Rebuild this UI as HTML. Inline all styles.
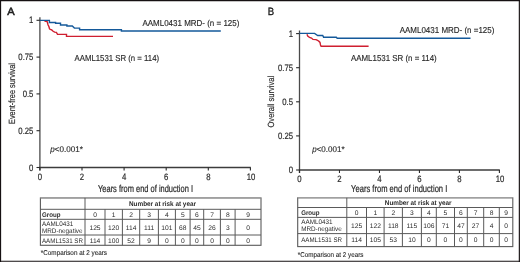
<!DOCTYPE html>
<html><head><meta charset="utf-8"><style>
html,body{margin:0;padding:0;background:#fff;}
svg{display:block;will-change:transform;font-family:"Liberation Sans", sans-serif;text-rendering:geometricPrecision;}
text{fill:#2b2b2b;}
</style></head><body>
<svg width="520" height="262" viewBox="0 0 520 262">
<rect x="0" y="0" width="520" height="262" fill="#fff"/>
<text x="7.3" y="14.6" font-size="10.6" textLength="7.4" lengthAdjust="spacingAndGlyphs" fill="#111" stroke="#111" stroke-width="0.5">A</text>
<line x1="39.9" y1="17.2" x2="39.9" y2="170.5" stroke="#4a4a4a" stroke-width="1.3"/>
<line x1="39.3" y1="167.5" x2="250.8" y2="167.5" stroke="#3c3c3c" stroke-width="1.4"/>
<line x1="36.5" y1="167.5" x2="39.9" y2="167.5" stroke="#2a2a2a" stroke-width="1.1"/>
<text x="33.4" y="170.5" font-size="9.3" text-anchor="end" textLength="4.31" lengthAdjust="spacingAndGlyphs" stroke="#2b2b2b" stroke-width="0.2">0</text>
<line x1="36.5" y1="130.7" x2="39.9" y2="130.7" stroke="#2a2a2a" stroke-width="1.1"/>
<text x="33.4" y="133.7" font-size="9.3" text-anchor="end" textLength="15.07" lengthAdjust="spacingAndGlyphs" stroke="#2b2b2b" stroke-width="0.2">0.25</text>
<line x1="36.5" y1="93.9" x2="39.9" y2="93.9" stroke="#2a2a2a" stroke-width="1.1"/>
<text x="33.4" y="96.9" font-size="9.3" text-anchor="end" textLength="10.76" lengthAdjust="spacingAndGlyphs" stroke="#2b2b2b" stroke-width="0.2">0.5</text>
<line x1="36.5" y1="57.1" x2="39.9" y2="57.1" stroke="#2a2a2a" stroke-width="1.1"/>
<text x="33.4" y="60.1" font-size="9.3" text-anchor="end" textLength="15.07" lengthAdjust="spacingAndGlyphs" stroke="#2b2b2b" stroke-width="0.2">0.75</text>
<line x1="36.5" y1="20.3" x2="39.9" y2="20.3" stroke="#2a2a2a" stroke-width="1.1"/>
<text x="33.4" y="23.3" font-size="9.3" text-anchor="end" textLength="4.31" lengthAdjust="spacingAndGlyphs" stroke="#2b2b2b" stroke-width="0.2">1</text>
<line x1="39.9" y1="167.5" x2="39.9" y2="170.5" stroke="#2a2a2a" stroke-width="1.1"/>
<text x="39.9" y="179.9" font-size="9.3" text-anchor="middle" textLength="4.31" lengthAdjust="spacingAndGlyphs" stroke="#2b2b2b" stroke-width="0.2">0</text>
<line x1="82" y1="167.5" x2="82" y2="170.5" stroke="#2a2a2a" stroke-width="1.1"/>
<text x="82" y="179.9" font-size="9.3" text-anchor="middle" textLength="4.31" lengthAdjust="spacingAndGlyphs" stroke="#2b2b2b" stroke-width="0.2">2</text>
<line x1="124.1" y1="167.5" x2="124.1" y2="170.5" stroke="#2a2a2a" stroke-width="1.1"/>
<text x="124.1" y="179.9" font-size="9.3" text-anchor="middle" textLength="4.31" lengthAdjust="spacingAndGlyphs" stroke="#2b2b2b" stroke-width="0.2">4</text>
<line x1="166.2" y1="167.5" x2="166.2" y2="170.5" stroke="#2a2a2a" stroke-width="1.1"/>
<text x="166.2" y="179.9" font-size="9.3" text-anchor="middle" textLength="4.31" lengthAdjust="spacingAndGlyphs" stroke="#2b2b2b" stroke-width="0.2">6</text>
<line x1="208.3" y1="167.5" x2="208.3" y2="170.5" stroke="#2a2a2a" stroke-width="1.1"/>
<text x="208.3" y="179.9" font-size="9.3" text-anchor="middle" textLength="4.31" lengthAdjust="spacingAndGlyphs" stroke="#2b2b2b" stroke-width="0.2">8</text>
<line x1="250.4" y1="167.5" x2="250.4" y2="170.5" stroke="#2a2a2a" stroke-width="1.1"/>
<text x="251" y="179.9" font-size="9.3" text-anchor="middle" textLength="8.61" lengthAdjust="spacingAndGlyphs" stroke="#2b2b2b" stroke-width="0.2">10</text>
<text x="0" y="0" font-size="9" text-anchor="middle" textLength="61.0" lengthAdjust="spacingAndGlyphs" transform="translate(15.0,93.5) rotate(-90)" stroke="#2b2b2b" stroke-width="0.18">Event-free survival</text>
<path d="M44.50,21.20 L47.00,21.30 L48.10,25.00 L48.80,26.30 L49.50,28.80 L50.30,29.30 L51.70,29.90 L52.80,31.00 L54.60,32.10 L56.40,32.40 L57.50,34.40 L66.50,34.40 L66.50,36.40 L113.00,36.40" fill="none" stroke="#cf1f30" stroke-width="1.4" stroke-linejoin="miter"/>
<path d="M39.90,20.40 L49.40,20.40 L49.40,22.50 L55.60,22.50 L55.60,23.30 L60.50,23.30 L60.50,25.00 L66.90,25.00 L66.90,26.00 L72.30,26.00 L74.40,28.10 L79.60,28.10 L79.60,29.70 L121.40,29.70 L121.40,31.00 L220.80,31.00" fill="none" stroke="#14599a" stroke-width="1.4" stroke-linejoin="miter"/>
<text x="142.4" y="26.4" font-size="8.6" textLength="97" lengthAdjust="spacingAndGlyphs" stroke="#2b2b2b" stroke-width="0.15">AAML0431 MRD- (n = 125)</text>
<text x="74.5" y="61.3" font-size="8.6" textLength="84.6" lengthAdjust="spacingAndGlyphs" stroke="#2b2b2b" stroke-width="0.15">AAML1531 SR (n = 114)</text>
<text x="50.3" y="151.7" font-size="8.3" textLength="32.7" lengthAdjust="spacingAndGlyphs" stroke="#2b2b2b" stroke-width="0.15"><tspan font-style="italic">p</tspan>&lt;0.001*</text>
<text x="98" y="192.4" font-size="10" textLength="95" lengthAdjust="spacingAndGlyphs" stroke="#2b2b2b" stroke-width="0.22">Years from end of induction I</text>
<rect x="40.4" y="197.9" width="220.6" height="47.400000000000006" fill="none" stroke="#5a5a5a" stroke-width="1.1"/>
<line x1="40.4" y1="197.75" x2="261" y2="197.75" stroke="#a0a0a0" stroke-width="1.4"/>
<line x1="40.4" y1="209.3" x2="261" y2="209.3" stroke="#5a5a5a" stroke-width="1.0"/>
<line x1="40.4" y1="219.3" x2="261" y2="219.3" stroke="#5a5a5a" stroke-width="1.0"/>
<line x1="40.4" y1="235" x2="261" y2="235" stroke="#5a5a5a" stroke-width="1.0"/>
<line x1="85" y1="197.9" x2="85" y2="245.3" stroke="#5a5a5a" stroke-width="1.0"/>
<line x1="105" y1="209.3" x2="105" y2="245.3" stroke="#5a5a5a" stroke-width="1.0"/>
<line x1="122.4" y1="209.3" x2="122.4" y2="245.3" stroke="#5a5a5a" stroke-width="1.0"/>
<line x1="139.7" y1="209.3" x2="139.7" y2="245.3" stroke="#5a5a5a" stroke-width="1.0"/>
<line x1="158.4" y1="209.3" x2="158.4" y2="245.3" stroke="#5a5a5a" stroke-width="1.0"/>
<line x1="175.4" y1="209.3" x2="175.4" y2="245.3" stroke="#5a5a5a" stroke-width="1.0"/>
<line x1="190.1" y1="209.3" x2="190.1" y2="245.3" stroke="#5a5a5a" stroke-width="1.0"/>
<line x1="203.7" y1="209.3" x2="203.7" y2="245.3" stroke="#5a5a5a" stroke-width="1.0"/>
<line x1="220.4" y1="209.3" x2="220.4" y2="245.3" stroke="#5a5a5a" stroke-width="1.0"/>
<line x1="235.1" y1="209.3" x2="235.1" y2="245.3" stroke="#5a5a5a" stroke-width="1.0"/>
<text x="129" y="205.5" font-size="6.8" textLength="67" lengthAdjust="spacingAndGlyphs" font-weight="bold">Number at risk at year</text>
<text x="42" y="216.6" font-size="6.8" textLength="18.4" lengthAdjust="spacingAndGlyphs" font-weight="bold">Group</text>
<text x="42" y="226.1" font-size="6.7" textLength="31.3" lengthAdjust="spacingAndGlyphs">AAML0431</text>
<text x="42" y="232.8" font-size="6.7" textLength="40.5" lengthAdjust="spacingAndGlyphs">MRD-negative</text>
<text x="42" y="243.2" font-size="6.7" textLength="40.9" lengthAdjust="spacingAndGlyphs">AAML1531 SR</text>
<text x="95" y="216.6" font-size="6.7" text-anchor="middle">0</text>
<text x="95" y="230.1" font-size="6.7" text-anchor="middle">125</text>
<text x="95" y="243.2" font-size="6.7" text-anchor="middle">114</text>
<text x="113.7" y="216.6" font-size="6.7" text-anchor="middle">1</text>
<text x="113.7" y="230.1" font-size="6.7" text-anchor="middle">120</text>
<text x="113.7" y="243.2" font-size="6.7" text-anchor="middle">100</text>
<text x="131.05" y="216.6" font-size="6.7" text-anchor="middle">2</text>
<text x="131.05" y="230.1" font-size="6.7" text-anchor="middle">114</text>
<text x="131.05" y="243.2" font-size="6.7" text-anchor="middle">52</text>
<text x="149.05" y="216.6" font-size="6.7" text-anchor="middle">3</text>
<text x="149.05" y="230.1" font-size="6.7" text-anchor="middle">111</text>
<text x="149.05" y="243.2" font-size="6.7" text-anchor="middle">9</text>
<text x="166.9" y="216.6" font-size="6.7" text-anchor="middle">4</text>
<text x="166.9" y="230.1" font-size="6.7" text-anchor="middle">101</text>
<text x="166.9" y="243.2" font-size="6.7" text-anchor="middle">0</text>
<text x="182.75" y="216.6" font-size="6.7" text-anchor="middle">5</text>
<text x="182.75" y="230.1" font-size="6.7" text-anchor="middle">68</text>
<text x="182.75" y="243.2" font-size="6.7" text-anchor="middle">0</text>
<text x="196.9" y="216.6" font-size="6.7" text-anchor="middle">6</text>
<text x="196.9" y="230.1" font-size="6.7" text-anchor="middle">45</text>
<text x="196.9" y="243.2" font-size="6.7" text-anchor="middle">0</text>
<text x="212.05" y="216.6" font-size="6.7" text-anchor="middle">7</text>
<text x="212.05" y="230.1" font-size="6.7" text-anchor="middle">26</text>
<text x="212.05" y="243.2" font-size="6.7" text-anchor="middle">0</text>
<text x="227.75" y="216.6" font-size="6.7" text-anchor="middle">8</text>
<text x="227.75" y="230.1" font-size="6.7" text-anchor="middle">3</text>
<text x="227.75" y="243.2" font-size="6.7" text-anchor="middle">0</text>
<text x="248.05" y="216.6" font-size="6.7" text-anchor="middle">9</text>
<text x="248.05" y="230.1" font-size="6.7" text-anchor="middle">0</text>
<text x="248.05" y="243.2" font-size="6.7" text-anchor="middle">0</text>
<text x="40.8" y="255.2" font-size="7.0" textLength="66.2" lengthAdjust="spacingAndGlyphs" stroke="#2b2b2b" stroke-width="0.12">*Comparison at 2 years</text>
<text x="267.7" y="14.6" font-size="10.6" textLength="6.4" lengthAdjust="spacingAndGlyphs" fill="#111" stroke="#111" stroke-width="0.35">B</text>
<line x1="299.5" y1="30.5" x2="299.5" y2="173" stroke="#4a4a4a" stroke-width="1.3"/>
<line x1="298.9" y1="170" x2="499.8" y2="170" stroke="#3c3c3c" stroke-width="1.4"/>
<line x1="296.1" y1="170" x2="299.5" y2="170" stroke="#2a2a2a" stroke-width="1.1"/>
<text x="293" y="173" font-size="9.3" text-anchor="end" textLength="4.31" lengthAdjust="spacingAndGlyphs" stroke="#2b2b2b" stroke-width="0.2">0</text>
<line x1="296.1" y1="135.9" x2="299.5" y2="135.9" stroke="#2a2a2a" stroke-width="1.1"/>
<text x="293" y="138.9" font-size="9.3" text-anchor="end" textLength="15.07" lengthAdjust="spacingAndGlyphs" stroke="#2b2b2b" stroke-width="0.2">0.25</text>
<line x1="296.1" y1="101.8" x2="299.5" y2="101.8" stroke="#2a2a2a" stroke-width="1.1"/>
<text x="293" y="104.8" font-size="9.3" text-anchor="end" textLength="10.76" lengthAdjust="spacingAndGlyphs" stroke="#2b2b2b" stroke-width="0.2">0.5</text>
<line x1="296.1" y1="67.7" x2="299.5" y2="67.7" stroke="#2a2a2a" stroke-width="1.1"/>
<text x="293" y="70.7" font-size="9.3" text-anchor="end" textLength="15.07" lengthAdjust="spacingAndGlyphs" stroke="#2b2b2b" stroke-width="0.2">0.75</text>
<line x1="296.1" y1="33.6" x2="299.5" y2="33.6" stroke="#2a2a2a" stroke-width="1.1"/>
<text x="293" y="36.6" font-size="9.3" text-anchor="end" textLength="4.31" lengthAdjust="spacingAndGlyphs" stroke="#2b2b2b" stroke-width="0.2">1</text>
<line x1="299.5" y1="170" x2="299.5" y2="173" stroke="#2a2a2a" stroke-width="1.1"/>
<text x="299.5" y="182.4" font-size="9.3" text-anchor="middle" textLength="4.31" lengthAdjust="spacingAndGlyphs" stroke="#2b2b2b" stroke-width="0.2">0</text>
<line x1="339.48" y1="170" x2="339.48" y2="173" stroke="#2a2a2a" stroke-width="1.1"/>
<text x="339.48" y="182.4" font-size="9.3" text-anchor="middle" textLength="4.31" lengthAdjust="spacingAndGlyphs" stroke="#2b2b2b" stroke-width="0.2">2</text>
<line x1="379.46" y1="170" x2="379.46" y2="173" stroke="#2a2a2a" stroke-width="1.1"/>
<text x="379.46" y="182.4" font-size="9.3" text-anchor="middle" textLength="4.31" lengthAdjust="spacingAndGlyphs" stroke="#2b2b2b" stroke-width="0.2">4</text>
<line x1="419.44" y1="170" x2="419.44" y2="173" stroke="#2a2a2a" stroke-width="1.1"/>
<text x="419.44" y="182.4" font-size="9.3" text-anchor="middle" textLength="4.31" lengthAdjust="spacingAndGlyphs" stroke="#2b2b2b" stroke-width="0.2">6</text>
<line x1="459.42" y1="170" x2="459.42" y2="173" stroke="#2a2a2a" stroke-width="1.1"/>
<text x="459.42" y="182.4" font-size="9.3" text-anchor="middle" textLength="4.31" lengthAdjust="spacingAndGlyphs" stroke="#2b2b2b" stroke-width="0.2">8</text>
<line x1="499.4" y1="170" x2="499.4" y2="173" stroke="#2a2a2a" stroke-width="1.1"/>
<text x="500" y="182.4" font-size="9.3" text-anchor="middle" textLength="8.61" lengthAdjust="spacingAndGlyphs" stroke="#2b2b2b" stroke-width="0.2">10</text>
<text x="0" y="0" font-size="9" text-anchor="middle" textLength="51.6" lengthAdjust="spacingAndGlyphs" transform="translate(273.9,101.7) rotate(-90)" stroke="#2b2b2b" stroke-width="0.18">Overall survival</text>
<path d="M307.00,34.20 L307.70,36.10 L309.50,37.30 L311.50,38.00 L313.00,39.40 L316.00,39.60 L317.50,40.30 L319.00,41.40 L320.00,42.40 L320.50,45.00 L321.10,46.20 L368.60,46.20" fill="none" stroke="#cf1f30" stroke-width="1.4" stroke-linejoin="miter"/>
<path d="M299.50,33.40 L314.60,33.40 L317.70,35.50 L322.70,35.50 L323.60,37.20 L336.30,37.20 L337.20,38.20 L470.50,38.20" fill="none" stroke="#14599a" stroke-width="1.4" stroke-linejoin="miter"/>
<text x="399.7" y="32.9" font-size="8.6" textLength="94.7" lengthAdjust="spacingAndGlyphs" stroke="#2b2b2b" stroke-width="0.15">AAML0431 MRD- (n =125)</text>
<text x="351" y="61.3" font-size="8.6" textLength="85.7" lengthAdjust="spacingAndGlyphs" stroke="#2b2b2b" stroke-width="0.15">AAML1531 SR (n = 114)</text>
<text x="312.2" y="152.3" font-size="8.3" textLength="32.4" lengthAdjust="spacingAndGlyphs" stroke="#2b2b2b" stroke-width="0.15"><tspan font-style="italic">p</tspan>&lt;0.001*</text>
<text x="351.1" y="191.8" font-size="10" textLength="96.2" lengthAdjust="spacingAndGlyphs" stroke="#2b2b2b" stroke-width="0.22">Years from end of induction I</text>
<rect x="297.7" y="197.8" width="215.09999999999997" height="48.79999999999998" fill="none" stroke="#5a5a5a" stroke-width="1.1"/>
<line x1="297.7" y1="197.65" x2="512.8" y2="197.65" stroke="#a0a0a0" stroke-width="1.4"/>
<line x1="297.7" y1="207.5" x2="512.8" y2="207.5" stroke="#5a5a5a" stroke-width="1.0"/>
<line x1="297.7" y1="217.4" x2="512.8" y2="217.4" stroke="#5a5a5a" stroke-width="1.0"/>
<line x1="297.7" y1="233.6" x2="512.8" y2="233.6" stroke="#5a5a5a" stroke-width="1.0"/>
<line x1="346.8" y1="197.8" x2="346.8" y2="246.6" stroke="#5a5a5a" stroke-width="1.0"/>
<line x1="366.5" y1="207.5" x2="366.5" y2="246.6" stroke="#5a5a5a" stroke-width="1.0"/>
<line x1="384.1" y1="207.5" x2="384.1" y2="246.6" stroke="#5a5a5a" stroke-width="1.0"/>
<line x1="402.4" y1="207.5" x2="402.4" y2="246.6" stroke="#5a5a5a" stroke-width="1.0"/>
<line x1="421.4" y1="207.5" x2="421.4" y2="246.6" stroke="#5a5a5a" stroke-width="1.0"/>
<line x1="436.3" y1="207.5" x2="436.3" y2="246.6" stroke="#5a5a5a" stroke-width="1.0"/>
<line x1="454.5" y1="207.5" x2="454.5" y2="246.6" stroke="#5a5a5a" stroke-width="1.0"/>
<line x1="467.3" y1="207.5" x2="467.3" y2="246.6" stroke="#5a5a5a" stroke-width="1.0"/>
<line x1="483.7" y1="207.5" x2="483.7" y2="246.6" stroke="#5a5a5a" stroke-width="1.0"/>
<line x1="499.3" y1="207.5" x2="499.3" y2="246.6" stroke="#5a5a5a" stroke-width="1.0"/>
<text x="384.8" y="205.4" font-size="6.8" textLength="66.7" lengthAdjust="spacingAndGlyphs" font-weight="bold">Number at risk at year</text>
<text x="301.2" y="214.8" font-size="6.8" textLength="18.4" lengthAdjust="spacingAndGlyphs" font-weight="bold">Group</text>
<text x="301.2" y="224.2" font-size="6.7" textLength="31.3" lengthAdjust="spacingAndGlyphs">AAML0431</text>
<text x="301.2" y="230.9" font-size="6.7" textLength="40.5" lengthAdjust="spacingAndGlyphs">MRD-negative</text>
<text x="301.2" y="241.8" font-size="6.7" textLength="40.9" lengthAdjust="spacingAndGlyphs">AAML1531 SR</text>
<text x="356.65" y="214.8" font-size="6.7" text-anchor="middle">0</text>
<text x="356.65" y="228.2" font-size="6.7" text-anchor="middle">125</text>
<text x="356.65" y="241.8" font-size="6.7" text-anchor="middle">114</text>
<text x="375.3" y="214.8" font-size="6.7" text-anchor="middle">1</text>
<text x="375.3" y="228.2" font-size="6.7" text-anchor="middle">122</text>
<text x="375.3" y="241.8" font-size="6.7" text-anchor="middle">105</text>
<text x="393.25" y="214.8" font-size="6.7" text-anchor="middle">2</text>
<text x="393.25" y="228.2" font-size="6.7" text-anchor="middle">118</text>
<text x="393.25" y="241.8" font-size="6.7" text-anchor="middle">53</text>
<text x="411.9" y="214.8" font-size="6.7" text-anchor="middle">3</text>
<text x="411.9" y="228.2" font-size="6.7" text-anchor="middle">115</text>
<text x="411.9" y="241.8" font-size="6.7" text-anchor="middle">10</text>
<text x="428.85" y="214.8" font-size="6.7" text-anchor="middle">4</text>
<text x="428.85" y="228.2" font-size="6.7" text-anchor="middle">106</text>
<text x="428.85" y="241.8" font-size="6.7" text-anchor="middle">0</text>
<text x="445.4" y="214.8" font-size="6.7" text-anchor="middle">5</text>
<text x="445.4" y="228.2" font-size="6.7" text-anchor="middle">71</text>
<text x="445.4" y="241.8" font-size="6.7" text-anchor="middle">0</text>
<text x="460.9" y="214.8" font-size="6.7" text-anchor="middle">6</text>
<text x="460.9" y="228.2" font-size="6.7" text-anchor="middle">47</text>
<text x="460.9" y="241.8" font-size="6.7" text-anchor="middle">0</text>
<text x="475.5" y="214.8" font-size="6.7" text-anchor="middle">7</text>
<text x="475.5" y="228.2" font-size="6.7" text-anchor="middle">27</text>
<text x="475.5" y="241.8" font-size="6.7" text-anchor="middle">0</text>
<text x="491.5" y="214.8" font-size="6.7" text-anchor="middle">8</text>
<text x="491.5" y="228.2" font-size="6.7" text-anchor="middle">4</text>
<text x="491.5" y="241.8" font-size="6.7" text-anchor="middle">0</text>
<text x="506.05" y="214.8" font-size="6.7" text-anchor="middle">9</text>
<text x="506.05" y="228.2" font-size="6.7" text-anchor="middle">0</text>
<text x="506.05" y="241.8" font-size="6.7" text-anchor="middle">0</text>
<text x="297.8" y="256.7" font-size="7.0" textLength="65.6" lengthAdjust="spacingAndGlyphs" stroke="#2b2b2b" stroke-width="0.12">*Comparison at 2 years</text>
<path d="M0,0.55 H520 M0.55,0 V262 M519.35,0 V262 M0,261.2 H520" fill="none" stroke="#161112" stroke-width="1.15"/>
</svg>
</body></html>
